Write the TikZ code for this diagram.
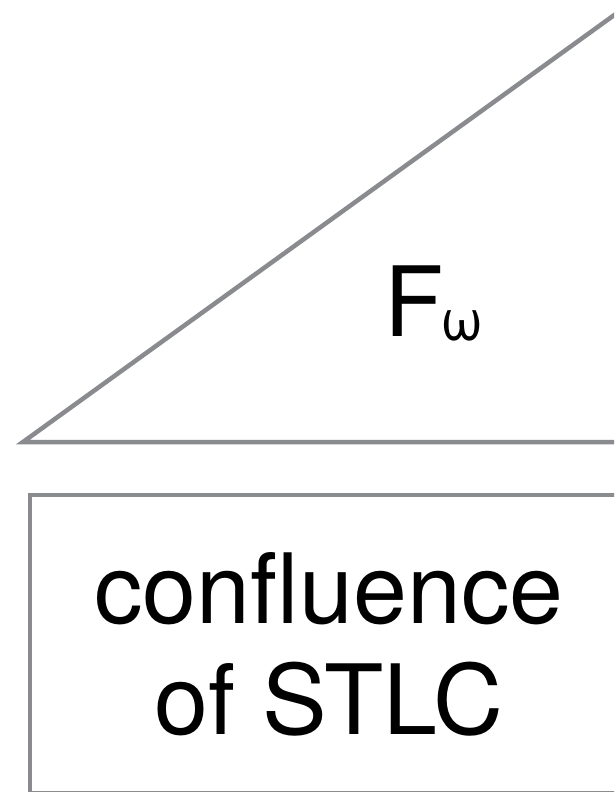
\documentclass[tikz,border=0pt]{standalone}
\usepackage{fontspec}
\setmainfont{TeX Gyre Heros}
\usepackage{xcolor}
\usetikzlibrary{positioning}
\definecolor{edgegray}{RGB}{138,139,143}

\begin{document}
\begin{tikzpicture}[
  x=1pt, y=-1pt,
  outline/.style={draw=edgegray, line width=4.5pt},
  lbl/.style={inner sep=0pt, font=\fontsize{97}{111}\selectfont}
]
\useasboundingbox (0,0) rectangle (614,792);
\clip (0,0) rectangle (614,792);

% upper layer: triangle, lower layer: box
\draw[outline] (23,442) -- (660,-18) -- (660,442) -- cycle;
\draw[outline] (30,495) rectangle (660,793);

\node[lbl, anchor=base west] (fw) at (384,336)
  {F\kern-3pt\raisebox{-4pt}{\fontsize{57}{57}\selectfont ω}};
\node[lbl, anchor=base] (conf) at (329,623) {confluence};
\node[lbl, anchor=base] (stlc) at ([yshift=-111pt]conf.base) {of STLC};
\end{tikzpicture}
\end{document}
